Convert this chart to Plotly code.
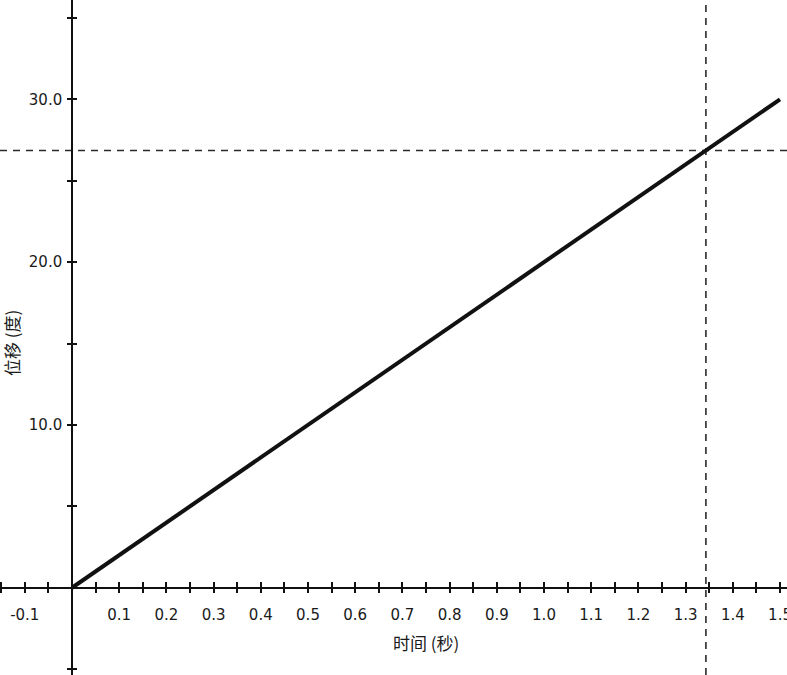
import plotly.graph_objects as go

# ---- data ----
time_s = [0.0, 1.5]
disp_deg = [0.0, 30.0]
mark_time = 1.343
mark_disp = 26.86

x_tick_vals = [-0.1, 0.1, 0.2, 0.3, 0.4, 0.5, 0.6, 0.7, 0.8, 0.9, 1.0, 1.1, 1.2, 1.3, 1.4, 1.5]
x_tick_text = ["-0.1", "0.1", "0.2", "0.3", "0.4", "0.5", "0.6", "0.7", "0.8", "0.9",
               "1.0", "1.1", "1.2", "1.3", "1.4", "1.5"]
y_tick_vals = [10, 20, 30]
y_tick_text = ["10.0", "20.0", "30.0"]

x_title = "时间 (秒)"
y_title = "位移 (度)"

# ---- layout constants ----
W, H = 787, 675
xr = [-0.1525, 1.5148]
yr = [-5.36, 36.1]
x_axis_pos = (0 - yr[0]) / (yr[1] - yr[0])   # paper y of x axis
y_axis_pos = (0 - xr[0]) / (xr[1] - xr[0])   # paper x of y axis

tick_font = dict(family="DejaVu Sans", size=15, color="#1a1a1a")
cjk_font = dict(family="Noto Sans CJK SC", size=17, color="#1a1a1a")

fig = go.Figure()

fig.add_trace(go.Scatter(x=time_s, y=disp_deg, mode="lines",
                         line=dict(color="#111111", width=4),
                         showlegend=False, hoverinfo="skip"))
# invisible trace on overlay axes so they render
fig.add_trace(go.Scatter(x=time_s, y=disp_deg, mode="lines",
                         line=dict(color="rgba(0,0,0,0)", width=0),
                         xaxis="x2", yaxis="y2", showlegend=False, hoverinfo="skip"))

fig.add_vline(x=mark_time, line=dict(color="#2a2a2a", width=1.6, dash="7px,6px"), layer="below")
fig.add_hline(y=mark_disp, line=dict(color="#2a2a2a", width=1.6, dash="7px,6px"), layer="below")

common_x = dict(range=xr, showgrid=False, zeroline=False, anchor="free", automargin=False,
                position=x_axis_pos, showline=True, linecolor="#111111", linewidth=1.5)
common_y = dict(range=yr, showgrid=False, zeroline=False, anchor="free", automargin=False,
                position=y_axis_pos, showline=True, linecolor="#111111", linewidth=1.5)

fig.update_layout(
    width=W, height=H, autosize=False,
    margin=dict(l=0, r=0, t=0, b=0, pad=0),
    paper_bgcolor="white", plot_bgcolor="white",
    xaxis=dict(**common_x, tickmode="array", tickvals=x_tick_vals, ticktext=x_tick_text,
               ticks="outside", ticklen=5, tickwidth=1.5, tickcolor="#111111",
               tickfont=tick_font, ticklabelstandoff=9, ticklabeloverflow="allow",
               minor=dict(dtick=0.05, tick0=0, ticks="outside", ticklen=5,
                          tickwidth=1.5, tickcolor="#111111")),
    yaxis=dict(**common_y, tickmode="array", tickvals=y_tick_vals, ticktext=y_tick_text,
               ticks="outside", ticklen=4, tickwidth=1.5, tickcolor="#111111",
               tickfont=tick_font, ticklabelstandoff=2, ticklabeloverflow="allow",
               minor=dict(dtick=5, tick0=0, ticks="outside", ticklen=4,
                          tickwidth=1.5, tickcolor="#111111")),
    xaxis2=dict(**common_x, overlaying="x", matches="x", showticklabels=False,
                tickmode="array", tickvals=x_tick_vals,
                ticks="inside", ticklen=5, tickwidth=1.5, tickcolor="#111111",
                minor=dict(dtick=0.05, tick0=0, ticks="inside", ticklen=5,
                           tickwidth=1.5, tickcolor="#111111")),
    yaxis2=dict(**common_y, overlaying="y", matches="y", showticklabels=False,
                tickmode="array", tickvals=y_tick_vals,
                ticks="inside", ticklen=4, tickwidth=1.5, tickcolor="#111111",
                minor=dict(dtick=5, tick0=0, ticks="inside", ticklen=4,
                           tickwidth=1.5, tickcolor="#111111")),
    annotations=[
        dict(text=x_title, xref="paper", yref="paper",
             x=426 / W, y=1 - 642 / H, xanchor="center", yanchor="middle",
             showarrow=False, font=cjk_font),
        dict(text=y_title, xref="paper", yref="paper",
             x=11 / W, y=1 - 343 / H, xanchor="center", yanchor="middle",
             textangle=-90, showarrow=False, font=cjk_font),
    ],
)

fig.write_html("out.html", config={"displayModeBar": False},
               post_script="document.body.style.margin='0';")
